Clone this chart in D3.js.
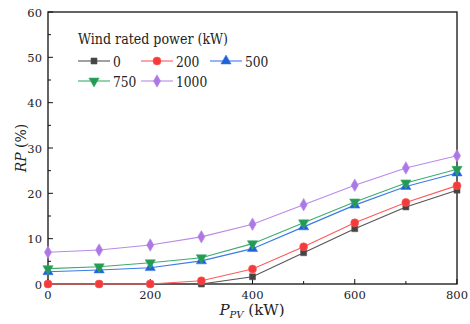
<!DOCTYPE html>
<html>
<head>
<meta charset="utf-8">
<script src="https://cdn.jsdelivr.net/npm/d3@7"></script>
<style>
  body { margin: 0; background: #fff; }
  svg text { fill: #222; }
</style>
</head>
<body>
<svg id="chart" width="470" height="324" font-family="'DejaVu Serif', serif"></svg>
<script>
const pv = [0, 100, 200, 300, 400, 500, 600, 700, 800];
const wind0 = [0, 0, 0, 0, 1.6, 6.9, 12.2, 17.0, 20.7];
const wind200 = [0, 0, 0, 0.7, 3.3, 8.2, 13.5, 18.0, 21.7];
const wind500 = [2.7, 3.1, 3.6, 5.1, 7.8, 12.6, 17.4, 21.5, 24.5];
const wind750 = [3.4, 3.8, 4.7, 5.8, 8.9, 13.5, 18.1, 22.3, 25.3];
const wind1000 = [7.0, 7.5, 8.6, 10.4, 13.2, 17.5, 21.8, 25.6, 28.3];
const seriesNames = ["0", "200", "500", "750", "1000"];
const xTicks = [0, 200, 400, 600, 800];
const yTicks = [0, 10, 20, 30, 40, 50, 60];

const series = [
  {name: "0", values: wind0, line: "#555", fill: "#444", sym: d3.symbolSquare},
  {name: "200", values: wind200, line: "#ff5a5a", fill: "#f43a3a", sym: d3.symbolCircle},
  {name: "500", values: wind500, line: "#3b7be8", fill: "#1f5fd8", sym: d3.symbolTriangle},
  {name: "750", values: wind750, line: "#3cad6a", fill: "#249a55", sym: "down"},
  {name: "1000", values: wind1000, line: "#b98ae8", fill: "#ad78e6", sym: d3.symbolDiamond}
];

const svg = d3.select("#chart");
const m = {left: 48, right: 13, top: 12, bottom: 40};
const W = 470, H = 324;
const x = d3.scaleLinear().domain([0, 800]).range([m.left, W - m.right]);
const y = d3.scaleLinear().domain([0, 60]).range([H - m.bottom, m.top]);

svg.append("rect")
  .attr("x", x(0)).attr("y", y(60))
  .attr("width", x(800) - x(0)).attr("height", y(0) - y(60))
  .attr("fill", "none").attr("stroke", "#111").attr("stroke-width", 1.3);

const gx = svg.append("g").attr("transform", `translate(0,${y(0)})`);
gx.selectAll("line.maj").data(xTicks).enter().append("line")
  .attr("x1", d => x(d)).attr("x2", d => x(d)).attr("y1", 0).attr("y2", -5)
  .attr("stroke", "#111");
gx.selectAll("line.min").data(d3.range(100, 800, 200)).enter().append("line")
  .attr("x1", d => x(d)).attr("x2", d => x(d)).attr("y1", 0).attr("y2", -3)
  .attr("stroke", "#111");
gx.selectAll("text").data(xTicks).enter().append("text")
  .attr("x", d => x(d)).attr("y", 15).attr("text-anchor", "middle")
  .style("font-size", "11.5px").text(d => d);

const gy = svg.append("g").attr("transform", `translate(${x(0)},0)`);
gy.selectAll("line.maj").data(yTicks).enter().append("line")
  .attr("x1", 0).attr("x2", 5).attr("y1", d => y(d)).attr("y2", d => y(d))
  .attr("stroke", "#111");
gy.selectAll("line.min").data(d3.range(5, 60, 10)).enter().append("line")
  .attr("x1", 0).attr("x2", 3).attr("y1", d => y(d)).attr("y2", d => y(d))
  .attr("stroke", "#111");
gy.selectAll("text").data(yTicks).enter().append("text")
  .attr("x", -6).attr("y", d => y(d) + 4.5).attr("text-anchor", "end")
  .style("font-size", "11.5px").text(d => d);

const xt = svg.append("text").attr("x", 252).attr("y", 315).attr("text-anchor", "middle")
  .style("font-size", "15px");
xt.append("tspan").style("font-style", "italic").text("P");
xt.append("tspan").style("font-style", "italic").style("font-size", "10px").attr("dy", 3).text("PV");
xt.append("tspan").attr("dy", -3).text(" (kW)");

const yt = svg.append("text").attr("transform", `translate(26,${(y(0) + y(60)) / 2}) rotate(-90)`)
  .attr("text-anchor", "middle").style("font-size", "14px");
yt.append("tspan").style("font-style", "italic").text("RP");
yt.append("tspan").text(" (%)");

function symPath(s, size) {
  if (s === "down") return d3.symbol(d3.symbolTriangle, size)();
  return d3.symbol(s, size)();
}
function symSize(s) {
  if (s === d3.symbolSquare) return 36;
  if (s === d3.symbolCircle) return 50;
  if (s === d3.symbolDiamond) return 45;
  return 45;
}

const line = d3.line().x((d, i) => x(pv[i])).y(d => y(d));
series.forEach(s => {
  svg.append("path").attr("d", line(s.values))
    .attr("fill", "none").attr("stroke", s.line).attr("stroke-width", 1.1);
  svg.selectAll(null).data(s.values).enter().append("path")
    .attr("d", symPath(s.sym, symSize(s.sym)))
    .attr("transform", (d, i) => `translate(${x(pv[i])},${y(d)})` + (s.sym === "down" ? " rotate(180)" : ""))
    .attr("fill", s.fill).attr("stroke", s.line).attr("stroke-width", 0.6);
});

const lg = svg.append("g");
lg.append("text").attr("x", 78).attr("y", 44).style("font-size", "15px")
  .attr("textLength", 150).attr("lengthAdjust", "spacingAndGlyphs").text("Wind rated power (kW)");
const lpos = [[78, 61], [141, 61], [210, 61], [78, 81], [141, 81]];
series.forEach((s, i) => {
  const [lx, ly] = lpos[i];
  lg.append("line").attr("x1", lx).attr("x2", lx + 32).attr("y1", ly).attr("y2", ly)
    .attr("stroke", s.line).attr("stroke-width", 1.1);
  lg.append("path").attr("d", symPath(s.sym, symSize(s.sym)))
    .attr("transform", `translate(${lx + 16},${ly})` + (s.sym === "down" ? " rotate(180)" : ""))
    .attr("fill", s.fill).attr("stroke", s.line).attr("stroke-width", 0.6);
  lg.append("text").attr("x", lx + 35).attr("y", ly + 5.5).style("font-size", "15px")
    .attr("textLength", seriesNames[i].length * 7.8).attr("lengthAdjust", "spacingAndGlyphs")
    .text(seriesNames[i]);
});
</script>
</body>
</html>
